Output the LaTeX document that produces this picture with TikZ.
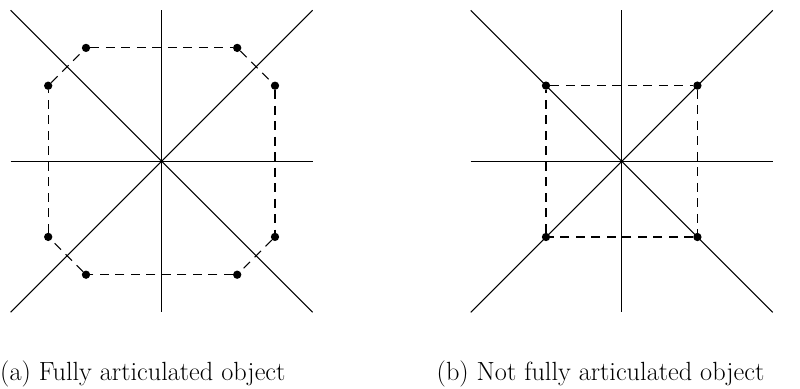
\documentclass[tikz,border=0pt]{standalone}
\begin{document}
\begin{tikzpicture}[x=1pt,y=-1pt,
  axis/.style={line width=1.05pt},
  dashline/.style={line width=1.05pt, dash pattern=on 9pt off 6.5pt},
  dot/.style={circle, fill=black, inner sep=0pt, minimum size=8.3pt},
  captext/.style={anchor=base west, inner sep=0pt, font=\fontsize{26.3}{31}\selectfont}]
\useasboundingbox (0,0) rectangle (800,388);
% ---- left panel
\begin{scope}[shift={(161.6,161.3)}]
  \coordinate (aW) at (-151,0);   \coordinate (aE) at (151,0);
  \coordinate (aN) at (0,-151);   \coordinate (aS) at (0,151);
  \coordinate (aNW) at (-151,-151); \coordinate (aSE) at (151,151);
  \coordinate (aNE) at (151,-151);  \coordinate (aSW) at (-151,151);
  \draw[axis] (aW) -- (aE);
  \draw[axis] (aN) -- (aS);
  \draw[axis] (aNW) -- (aSE);
  \draw[axis] (aSW) -- (aNE);
  \node[dot] (p1) at (-75.6,-113.4) {};
  \node[dot] (p2) at (75.6,-113.4) {};
  \node[dot] (p3) at (113.4,-75.6) {};
  \node[dot] (p4) at (113.4,75.6) {};
  \node[dot] (p5) at (75.6,113.4) {};
  \node[dot] (p6) at (-75.6,113.4) {};
  \node[dot] (p7) at (-113.4,75.6) {};
  \node[dot] (p8) at (-113.4,-75.6) {};
  \draw[dashline] (p1) -- (p2);
  \draw[dashline] (p2) -- (p3);
  \draw[dashline] (p3) -- (p4);
  \draw[dashline] (p4) -- (p5);
  \draw[dashline] (p5) -- (p6);
  \draw[dashline] (p6) -- (p7);
  \draw[dashline] (p7) -- (p8);
  \draw[dashline] (p8) -- (p1);
\end{scope}
% ---- right panel
\begin{scope}[shift={(621.7,161.3)}]
  \coordinate (bW) at (-151,0);   \coordinate (bE) at (151,0);
  \coordinate (bN) at (0,-151);   \coordinate (bS) at (0,151);
  \coordinate (bNW) at (-151,-151); \coordinate (bSE) at (151,151);
  \coordinate (bNE) at (151,-151);  \coordinate (bSW) at (-151,151);
  \draw[axis] (bW) -- (bE);
  \draw[axis] (bN) -- (bS);
  \draw[axis] (bNW) -- (bSE);
  \draw[axis] (bSW) -- (bNE);
  \node[dot] (q1) at (-75.7,-75.7) {};
  \node[dot] (q2) at (75.7,-75.7) {};
  \node[dot] (q3) at (75.7,75.7) {};
  \node[dot] (q4) at (-75.7,75.7) {};
  \draw[dashline] (q1) -- (q2);
  \draw[dashline] (q2) -- (q3);
  \draw[dashline] (q3) -- (q4);
  \draw[dashline] (q4) -- (q1);
\end{scope}
% ---- captions
\node[captext] (capa) at (0,380) {(a) Fully articulated object};
\node[captext] (capb) at (436.5,380) {(b) Not fully articulated object};
\end{tikzpicture}
\end{document}
